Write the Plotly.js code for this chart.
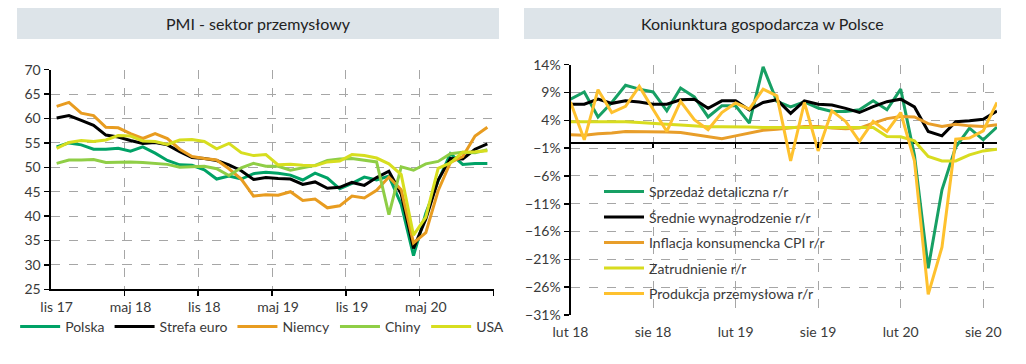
<!DOCTYPE html>
<html>
<head>
<meta charset="utf-8">
<script src="https://cdn.plot.ly/plotly-3.0.1.min.js"></script>
<style>
html,body{margin:0;padding:0;background:#fff;}
#chart{width:1026px;height:364px;}
</style>
</head>
<body>
<div id="chart"></div>
<script>
// ---------- Left chart: PMI (Nov 2017 - Oct 2020) ----------
const pmiTickLabels = ["lis 17", "maj 18", "lis 18", "maj 19", "lis 19", "maj 20"];
const pmiPolska = [54.2,55.0,54.6,53.7,53.7,53.9,53.3,54.2,52.9,51.4,50.5,50.4,49.5,47.6,48.2,47.6,48.7,49.0,48.8,48.4,47.4,48.8,47.8,45.6,46.7,48.0,47.4,48.2,42.4,31.9,40.6,47.2,52.8,50.6,50.8,50.8];
const pmiStrefaEuro = [60.1,60.6,59.6,58.6,56.6,56.2,55.5,54.9,55.1,54.6,53.2,52.0,51.8,51.4,50.5,49.3,47.5,47.9,47.7,47.6,46.5,47.0,45.7,45.9,46.9,46.3,47.9,49.2,44.5,33.4,39.4,47.4,51.8,51.7,53.7,54.8];
const pmiNiemcy = [62.5,63.3,61.1,60.6,58.2,58.1,56.9,55.9,56.9,55.9,53.7,52.2,51.8,51.5,49.7,47.6,44.1,44.4,44.3,45.0,43.2,43.5,41.7,42.1,44.1,43.7,45.3,48.0,45.4,34.5,36.6,45.2,51.0,52.2,56.4,58.2];
const pmiChiny = [50.8,51.5,51.5,51.6,51.0,51.1,51.1,51.0,50.8,50.6,50.0,50.1,50.2,49.7,48.3,49.9,50.8,50.2,50.2,49.4,49.9,50.4,51.4,51.7,51.8,51.5,51.1,40.3,50.1,49.4,50.7,51.2,52.8,53.1,53.0,53.6];
const pmiUSA = [53.9,55.1,55.5,55.3,55.6,56.5,56.4,55.4,55.3,54.7,55.6,55.7,55.3,53.8,54.9,53.0,52.4,52.6,50.5,50.6,50.4,50.3,51.1,51.3,52.6,52.4,51.9,50.7,48.5,36.1,39.8,49.8,50.9,53.1,53.2,53.4];

// ---------- Right chart: Polish economy (Feb 2018 - Sep 2020), % r/r ----------
const kTickLabels = ["lut 18", "sie 18", "lut 19", "sie 19", "lut 20", "sie 20"];
const sprzedaz = [7.8,9.1,4.6,7.2,10.3,9.6,9.1,5.7,9.8,8.2,4.6,6.6,6.6,3.5,13.6,7.4,6.4,7.3,6.2,5.6,5.6,5.9,7.5,5.9,9.6,-2.3,-22.6,-8.5,-0.8,2.6,0.5,2.8];
const wynagrodzenie = [6.9,6.9,7.8,7.05,7.5,7.3,6.9,6.9,7.7,7.8,6.15,7.5,7.5,5.85,7.2,7.7,5.25,7.5,6.9,6.75,6.15,5.4,6.45,7.35,7.8,6.4,2.0,1.2,3.75,3.9,4.2,5.65];
const inflacja = [1.4,1.3,1.6,1.7,2.0,2.0,2.0,1.9,1.8,1.4,1.1,0.7,1.2,1.7,2.2,2.4,2.6,2.9,2.9,2.6,2.5,2.6,3.5,4.3,4.7,4.6,3.4,2.9,3.3,3.0,2.9,3.2];
const zatrudnienie = [3.75,3.75,3.75,3.75,3.75,3.6,3.4,3.3,3.15,3.0,2.85,2.85,2.85,2.8,2.7,2.7,2.65,2.6,2.6,2.6,2.6,2.6,2.7,1.1,1.05,0.3,-2.5,-3.3,-3.3,-2.2,-1.5,-1.2];
const produkcja = [7.3,0.5,9.5,5.4,6.5,10.1,6.0,2.0,7.4,4.1,2.3,5.4,7.1,6.0,9.6,8.4,-3.3,7.2,-1.5,5.7,3.8,0.2,3.8,2.0,5.4,-3.3,-27.3,-18.8,0.6,0.8,2.1,7.2];

const FONT = "Lato, 'Noto Sans', sans-serif";
const TXT = "#3a3a3a";
const GRID = "#a6a6a6";

const idx = n => Array.from({length: n}, (_, i) => i);
const xL = idx(pmiPolska.length);
const xR = idx(sprzedaz.length);
const labelValsL = pmiTickLabels.map((_, k) => k * 6);
const gridValsL = pmiTickLabels.map((_, k) => k * 6 + 5.5);
const labelValsR = kTickLabels.map((_, k) => k * 6);
const gridValsR = labelValsR.concat([xR.length - 1]);

const yLmin = 25, yLmax = 70, yRmin = -31, yRmax = 14;
const domLy = [0.2052, 0.8085], domRy = [0.1346, 0.8223];
const zeroPos = domRy[0] + (0 - yRmin) / (yRmax - yRmin) * (domRy[1] - domRy[0]);

function line(x, y, name, color, xa, ya, legend) {
  return {x, y, name, type: 'scatter', mode: 'lines', xaxis: xa, yaxis: ya, legend,
          line: {color, width: 3}, hoverinfo: 'skip'};
}
// invisible carrier traces so the overlay axes (tick labels / zero-line ticks) get drawn
function carrier(x, y, xa, ya) {
  return {x, y, type: 'scatter', mode: 'markers', xaxis: xa, yaxis: ya, showlegend: false,
          marker: {opacity: 0, size: 1}, hoverinfo: 'skip'};
}

const data = [
  carrier(xL, pmiPolska, 'x3', 'y'),
  carrier(xR, sprzedaz, 'x4', 'y2'),
  line(xL, pmiPolska, 'Polska', '#00a266', 'x', 'y', 'legend'),
  line(xL, pmiStrefaEuro, 'Strefa euro', '#000000', 'x', 'y', 'legend'),
  line(xL, pmiNiemcy, 'Niemcy', '#e89c20', 'x', 'y', 'legend'),
  line(xL, pmiChiny, 'Chiny', '#8fce46', 'x', 'y', 'legend'),
  line(xL, pmiUSA, 'USA', '#d7de1f', 'x', 'y', 'legend'),
  line(xR, sprzedaz, 'Sprzedaż detaliczna r/r', '#17a064', 'x2', 'y2', 'legend2'),
  line(xR, wynagrodzenie, 'Średnie wynagrodzenie r/r', '#000000', 'x2', 'y2', 'legend2'),
  line(xR, inflacja, 'Inflacja konsumencka CPI r/r', '#e89e2a', 'x2', 'y2', 'legend2'),
  line(xR, zatrudnienie, 'Zatrudnienie r/r', '#d8dc1f', 'x2', 'y2', 'legend2'),
  line(xR, produkcja, 'Produkcja przemysłowa r/r', '#fec12e', 'x2', 'y2', 'legend2')
];
data.slice(7).forEach((t, k) => { t.legendgroup = 'g' + k; });

const tickFont = {family: FONT, size: 14, color: TXT};

const layout = {
  width: 1026, height: 364,
  margin: {l: 0, r: 0, t: 0, b: 0},
  paper_bgcolor: '#ffffff', plot_bgcolor: 'rgba(0,0,0,0)',
  font: {family: FONT, color: TXT},
  showlegend: true,
  // left grid axis
  xaxis: {domain: [50.5/1026, 493.5/1026], anchor: 'y', range: [-0.5, xL.length - 0.5],
          tickmode: 'array', tickvals: gridValsL, showticklabels: false,
          ticks: 'outside', ticklen: 5, tickwidth: 1.5, tickcolor: '#000',
          showgrid: true, gridcolor: GRID, griddash: 'dash', gridwidth: 1,
          showline: true, linecolor: '#000', linewidth: 2, zeroline: false, fixedrange: true},
  xaxis3: {overlaying: 'x', anchor: 'y', side: 'bottom', range: [-0.5, xL.length - 0.5],
           tickmode: 'array', tickvals: labelValsL, ticktext: pmiTickLabels, tickfont: tickFont,
           ticks: 'outside', ticklen: 5, tickcolor: 'rgba(0,0,0,0)',
           showgrid: false, showline: false, zeroline: false, fixedrange: true},
  yaxis: {domain: domLy, anchor: 'x', range: [yLmin, yLmax], tick0: 25, dtick: 5,
          tickfont: tickFont, ticks: 'outside', ticklen: 5, tickwidth: 1.5, tickcolor: '#000',
          showgrid: true, gridcolor: GRID, griddash: 'dash', gridwidth: 1,
          showline: true, linecolor: '#000', linewidth: 2, zeroline: false, fixedrange: true},
  // right chart
  xaxis2: {domain: [570.5/1026, 997/1026], anchor: 'y2', range: [0, xR.length - 1],
           tickmode: 'array', tickvals: gridValsR, ticktext: kTickLabels.concat(['']), tickfont: tickFont,
           ticks: 'outside', ticklen: 4, tickcolor: 'rgba(0,0,0,0)',
           showgrid: true, gridcolor: GRID, griddash: 'dash', gridwidth: 1,
           showline: false, zeroline: false, fixedrange: true},
  xaxis4: {overlaying: 'x2', anchor: 'free', position: zeroPos, side: 'bottom', range: [0, xR.length - 1],
           tickmode: 'array', tickvals: labelValsR.slice(1), showticklabels: false,
           ticks: 'outside', ticklen: 4, tickwidth: 1.5, tickcolor: '#000',
           showgrid: false, showline: false, zeroline: false, fixedrange: true},
  yaxis2: {domain: domRy, anchor: 'x2', range: [yRmin, yRmax], tick0: -31, dtick: 5, ticksuffix: '%',
           tickfont: tickFont, ticks: 'outside', ticklen: 5, tickwidth: 1.5, tickcolor: '#000',
           showgrid: true, gridcolor: GRID, griddash: 'dash', gridwidth: 1,
           showline: true, linecolor: '#000', linewidth: 2,
           zeroline: true, zerolinecolor: '#000', zerolinewidth: 2, fixedrange: true},
  legend: {orientation: 'h', x: 0.2555, xanchor: 'center', y: 1 - 327/364, yanchor: 'middle',
           font: {family: FONT, size: 14, color: TXT}, bgcolor: 'rgba(0,0,0,0)', itemwidth: 40},
  legend2: {orientation: 'v', x: 599/1026, xanchor: 'left', y: 1 - 176/364, yanchor: 'top',
            font: {family: FONT, size: 14, color: TXT}, bgcolor: 'rgba(0,0,0,0)', tracegroupgap: 4.3, itemwidth: 40},
  shapes: [
    {type: 'rect', xref: 'paper', yref: 'paper', x0: 17/1026, x1: 499/1026, y0: 1 - 39/364, y1: 1 - 8/364,
     fillcolor: '#dde4e9', line: {width: 0}, layer: 'below'},
    {type: 'rect', xref: 'paper', yref: 'paper', x0: 524/1026, x1: 1001/1026, y0: 1 - 39/364, y1: 1 - 8/364,
     fillcolor: '#dde4e9', line: {width: 0}, layer: 'below'}
  ],
  annotations: [
    {text: 'PMI - sektor przemysłowy', xref: 'paper', yref: 'paper', x: 258/1026, y: 1 - 23.5/364,
     xanchor: 'center', yanchor: 'middle', showarrow: false, font: {family: FONT, size: 16, color: '#222'}},
    {text: 'Koniunktura gospodarcza w Polsce', xref: 'paper', yref: 'paper', x: 762.5/1026, y: 1 - 23.5/364,
     xanchor: 'center', yanchor: 'middle', showarrow: false, font: {family: FONT, size: 16, color: '#222'}}
  ]
};

Plotly.newPlot('chart', data, layout, {staticPlot: true, displayModeBar: false});
</script>
</body>
</html>
